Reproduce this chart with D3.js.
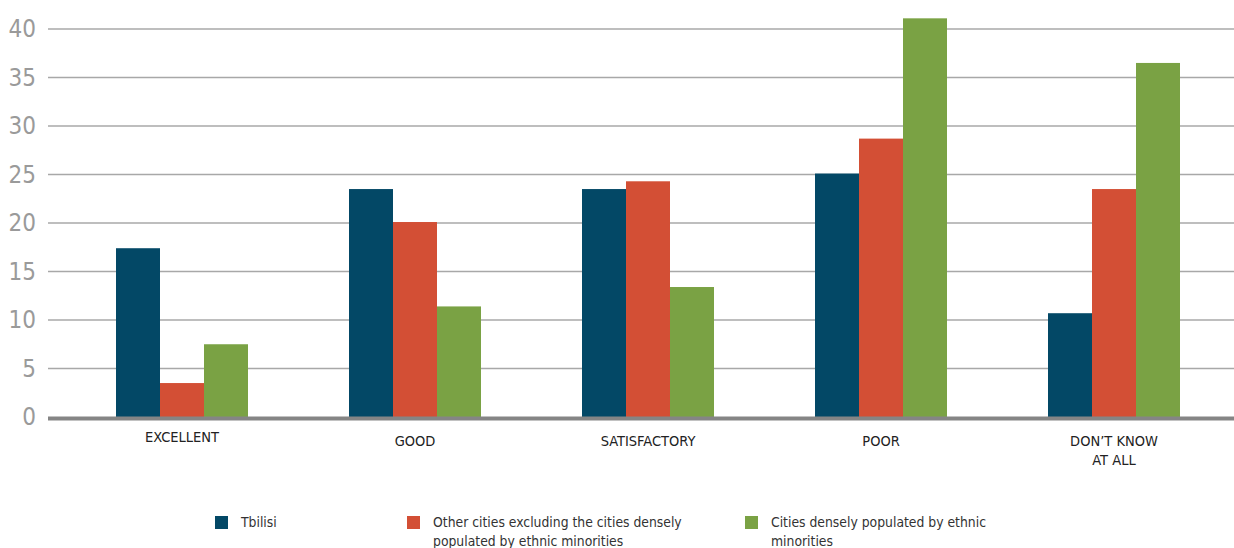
<!DOCTYPE html>
<html><head><meta charset="utf-8">
<script src="https://cdn.jsdelivr.net/npm/d3@7"></script>
<style>
html,body{margin:0;padding:0;background:#fff;}
svg{display:block;}
text{font-family:"DejaVu Sans Condensed","Liberation Sans Narrow","Roboto",sans-serif;}
</style></head>
<body>
<script>
const categories = ["EXCELLENT", "GOOD", "SATISFACTORY", "POOR", "DON\u2019T KNOW|AT ALL"];
const seriesNames = ["Tbilisi", "Other cities excluding the cities densely|populated by ethnic minorities", "Cities densely populated by ethnic|minorities"];
const tbilisi = [17.4, 23.5, 23.5, 25.1, 10.7];
const otherCities = [3.5, 20.1, 24.3, 28.7, 23.5];
const minorityCities = [7.5, 11.4, 13.4, 41.1, 36.5];
const yTicks = [0, 5, 10, 15, 20, 25, 30, 35, 40];
const colors = ["#034866", "#d34f35", "#7aa244"];

const W = 1234, H = 548;
const svg = d3.select("body").append("svg").attr("width", W).attr("height", H);

const y = d3.scaleLinear().domain([0, 40]).range([417, 29]);
const x = d3.scaleBand().domain(categories).range([64.5, 1229.5]).paddingInner(0).paddingOuter(0);
const xs = d3.scaleBand().domain([0, 1, 2]).range([51.5, 183.5]).padding(0);

const gridLeft = 48, gridRight = W;

// grid lines
svg.append("g").selectAll("line").data(yTicks.filter(d => d > 0)).join("line")
  .attr("x1", gridLeft).attr("x2", gridRight)
  .attr("y1", d => y(d)).attr("y2", d => y(d))
  .attr("stroke", "#a8a8a8").attr("stroke-width", 1.6);

// y labels
svg.append("g").selectAll("text").data(yTicks).join("text")
  .attr("x", 36).attr("y", d => y(d) + 8)
  .attr("text-anchor", "end")
  .attr("font-size", 24).attr("fill", "#9a9a9a")
  .text(d => d);

// bars
const data = [tbilisi, otherCities, minorityCities];
const groups = svg.append("g").selectAll("g").data(categories).join("g")
  .attr("transform", d => `translate(${x(d)},0)`);
groups.selectAll("rect").data((d, i) => data.map((s, j) => ({ s: j, v: s[i] }))).join("rect")
  .attr("x", d => xs(d.s)).attr("width", xs.bandwidth())
  .attr("y", d => y(d.v)).attr("height", d => y(0) - y(d.v))
  .attr("fill", d => colors[d.s]);

// baseline axis
svg.append("line").attr("x1", gridLeft).attr("x2", gridRight)
  .attr("y1", 418.5).attr("y2", 418.5)
  .attr("stroke", "#858585").attr("stroke-width", 4);

// x labels
const xl = svg.append("g").selectAll("text").data(categories).join("text")
  .attr("x", d => x(d) + 51.5 + 66)
  .attr("y", (d, i) => i === 0 ? 442 : 446)
  .attr("text-anchor", "middle").attr("font-size", 14.5).attr("fill", "#222");
xl.each(function (d) {
  const parts = d.split("|");
  d3.select(this).selectAll("tspan").data(parts).join("tspan")
    .attr("x", x(d) + 51.5 + 66)
    .attr("dy", (p, k) => k === 0 ? 0 : 19)
    .text(p => p);
});

// legend
const legendX = [215, 407, 745];
const lg = svg.append("g").selectAll("g").data(seriesNames).join("g")
  .attr("transform", (d, i) => `translate(${legendX[i]},0)`);
lg.append("rect").attr("x", 0).attr("y", 516).attr("width", 13).attr("height", 13)
  .attr("fill", (d, i) => colors[i]);
lg.append("text").attr("x", 26).attr("y", 527).attr("font-size", 13.8).attr("fill", "#333")
  .each(function (d) {
    d3.select(this).selectAll("tspan").data(d.split("|")).join("tspan")
      .attr("x", 26).attr("dy", (p, k) => k === 0 ? 0 : 19).text(p => p);
  });
</script>
</body></html>
